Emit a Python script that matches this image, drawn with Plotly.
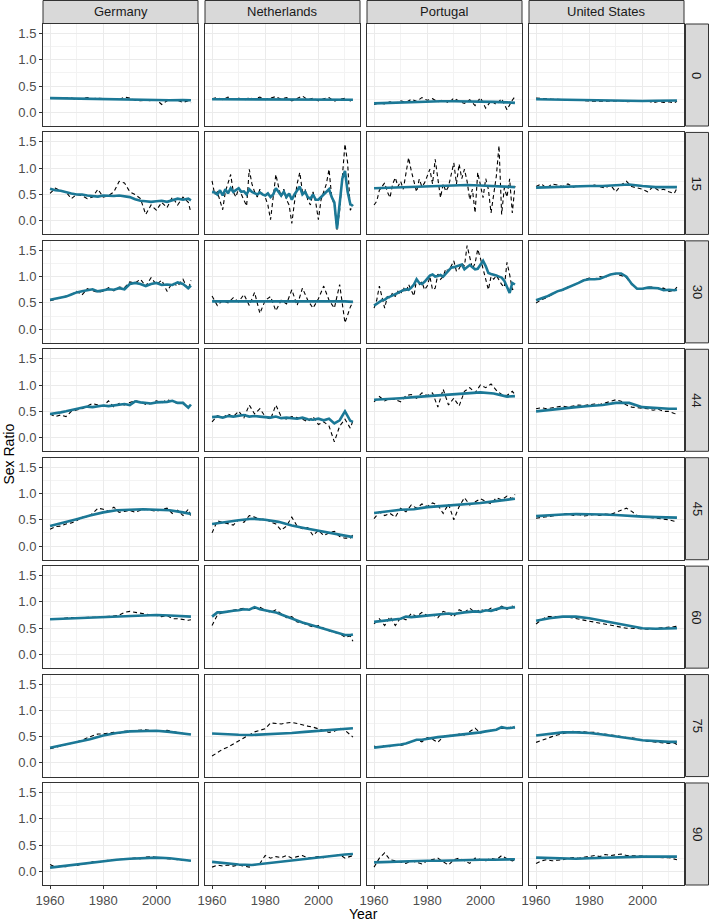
import plotly.graph_objects as go
from plotly.subplots import make_subplots

# years used by the series (yearly, every 2 years, every 5 years)
YEARS = list(range(1960, 2014))
YEARS_2 = list(range(1960, 2013, 2)) + [2013]
YEARS_5 = list(range(1960, 2011, 5)) + [2013]

COUNTRIES = ["Germany", "Netherlands", "Portugal", "United States"]
AGES = ["0", "15", "30", "44", "45", "60", "75", "90"]
X_TICKS = [1960, 1980, 2000]
Y_TICKS = [0.0, 0.5, 1.0, 1.5]

# --- age 0 ---
de_0_obs = [0.27, 0.27, 0.26, 0.26, 0.27, 0.25, 0.26, 0.28, 0.26, 0.27, 0.26, 0.25, 0.26, 0.24,
            0.29, 0.27, 0.23, 0.22, 0.23, 0.22, 0.24, 0.15, 0.22, 0.24, 0.23, 0.19, 0.22, 0.18]
de_0_fit = [0.27, 0.265, 0.26, 0.26, 0.255, 0.25, 0.245, 0.23, 0.225, 0.23, 0.235, 0.23]
nl_0_obs = [0.26, 0.28, 0.24, 0.29, 0.25, 0.27, 0.23, 0.28, 0.25, 0.29, 0.24, 0.27, 0.30, 0.25,
            0.28, 0.22, 0.26, 0.31, 0.24, 0.27, 0.22, 0.26, 0.28, 0.21, 0.25, 0.27, 0.22, 0.24]
nl_0_fit = [0.25, 0.25, 0.25, 0.25, 0.25, 0.25, 0.25, 0.245, 0.24, 0.24, 0.24, 0.24]
pt_0_obs = [0.15, 0.18, 0.16, 0.20, 0.17, 0.22, 0.19, 0.25, 0.21, 0.28, 0.23, 0.26, 0.20, 0.24,
            0.18, 0.27, 0.21, 0.17, 0.24, 0.13, 0.28, 0.08, 0.22, 0.15, 0.26, 0.05, 0.23, 0.30]
pt_0_fit = [0.17, 0.18, 0.19, 0.20, 0.205, 0.21, 0.21, 0.21, 0.20, 0.20, 0.19, 0.18]
us_0_obs = [0.27, 0.26, 0.26, 0.25, 0.25, 0.24, 0.24, 0.23, 0.23, 0.22, 0.22, 0.21, 0.21, 0.21,
            0.22, 0.21, 0.22, 0.20, 0.21, 0.21, 0.22, 0.22, 0.18, 0.21, 0.19, 0.20, 0.18, 0.21]
us_0_fit = [0.25, 0.245, 0.24, 0.235, 0.23, 0.22, 0.215, 0.21, 0.215, 0.22, 0.225, 0.225]

# --- age 15 ---
de_15_obs = [0.52, 0.62, 0.57, 0.55, 0.42, 0.50, 0.48, 0.42, 0.45, 0.60, 0.45, 0.48, 0.55, 0.75,
             0.72, 0.55, 0.50, 0.42, 0.12, 0.30, 0.20, 0.35, 0.25, 0.45, 0.30, 0.45, 0.35, 0.15]
de_15_fit = [0.61, 0.58, 0.57, 0.54, 0.52, 0.50, 0.50, 0.48, 0.47, 0.46, 0.48, 0.47, 0.47, 0.48,
             0.46, 0.45, 0.41, 0.38, 0.37, 0.36, 0.37, 0.38, 0.36, 0.39, 0.42, 0.40, 0.42, 0.39]
nl_15_obs = [0.76, 0.50, 0.55, 0.40, 0.21, 0.55, 0.70, 0.88, 0.55, 0.45,
             0.62, 0.50, 0.40, 0.28, 0.98, 0.70, 0.55, 0.45, 0.60, 0.50,
             0.45, 0.30, 0.02, 0.50, 0.88, 0.65, 0.45, 0.60, 0.40, 0.30,
             -0.05, 0.35, 0.70, 0.92, 0.55, 0.60, 0.40, 0.30, 0.55, 0.35,
             0.02, 0.40, 0.55, 0.70, 0.98, 0.45, 0.30, -0.17, 0.20, 0.80,
             1.46, 1.10, 0.20, 0.30]
nl_15_fit = [0.55, 0.54, 0.50, 0.58, 0.48, 0.60, 0.52, 0.62, 0.55, 0.58,
             0.62, 0.55, 0.56, 0.50, 0.60, 0.55, 0.52, 0.50, 0.54, 0.50,
             0.48, 0.52, 0.45, 0.50, 0.62, 0.55, 0.48, 0.55, 0.45, 0.52,
             0.40, 0.50, 0.58, 0.65, 0.50, 0.55, 0.45, 0.42, 0.50, 0.40,
             0.40, 0.45, 0.50, 0.55, 0.60, 0.45, 0.35, -0.15, 0.35, 0.80,
             0.95, 0.55, 0.32, 0.28]
pt_15_obs = [0.30, 0.37, 0.58, 0.65, 0.72, 0.55, 0.44, 0.70, 0.82, 0.65,
             0.75, 0.60, 0.90, 1.20, 0.95, 0.76, 0.55, 0.79, 0.65, 0.72,
             0.85, 0.98, 0.70, 1.17, 0.80, 0.44, 0.70, 0.56, 0.65, 0.85,
             1.10, 0.70, 1.08, 0.80, 0.98, 0.75, 0.40, 0.60, 0.15, 0.92,
             0.70, 0.44, 0.80, 0.60, 0.15, 0.55, 0.85, 1.43, 0.12, 0.63,
             0.45, 0.80, 0.15, 0.66]
pt_15_fit = [0.62, 0.63, 0.64, 0.65, 0.66, 0.67, 0.68, 0.68, 0.67, 0.66, 0.65, 0.64]
us_15_obs = [0.65, 0.70, 0.62, 0.70, 0.68, 0.65, 0.70, 0.64, 0.67, 0.65, 0.66, 0.68, 0.65, 0.62,
             0.68, 0.55, 0.68, 0.75, 0.65, 0.62, 0.60, 0.55, 0.65, 0.58, 0.60, 0.55, 0.52, 0.62]
us_15_fit = [0.63, 0.64, 0.65, 0.66, 0.66, 0.66, 0.67, 0.69, 0.66, 0.64, 0.64, 0.64]

# --- age 30 ---
de_30_obs = [0.54, 0.57, 0.60, 0.62, 0.66, 0.72, 0.65, 0.77, 0.73, 0.70, 0.72, 0.79, 0.73, 0.80,
             0.79, 0.90, 0.88, 0.95, 0.82, 0.98, 0.85, 0.93, 0.72, 0.88, 0.82, 0.95, 0.75, 0.93]
de_30_fit = [0.56, 0.58, 0.59, 0.62, 0.66, 0.70, 0.72, 0.74, 0.76, 0.72, 0.74, 0.76, 0.75, 0.78,
             0.76, 0.86, 0.88, 0.86, 0.82, 0.86, 0.88, 0.84, 0.85, 0.84, 0.89, 0.86, 0.78, 0.83]
nl_30_obs = [0.63, 0.45, 0.55, 0.50, 0.60, 0.52, 0.66, 0.45, 0.70, 0.30, 0.55, 0.62, 0.35, 0.55,
             0.48, 0.75, 0.45, 0.78, 0.55, 0.40, 0.58, 0.82, 0.55, 0.40, 0.85, 0.12, 0.42, 0.52]
nl_30_fit = [0.53, 0.53, 0.535, 0.54, 0.54, 0.54, 0.54, 0.54, 0.535, 0.53, 0.53, 0.52]
pt_30_obs = [0.40, 0.55, 0.82, 0.60, 0.40, 0.62, 0.58, 0.70, 0.62, 0.72,
             0.66, 0.80, 0.70, 0.85, 0.75, 0.63, 0.95, 0.85, 0.90, 0.75,
             0.82, 1.00, 0.75, 0.78, 1.05, 0.95, 1.00, 1.15, 1.10, 1.20,
             1.30, 1.10, 1.15, 1.25, 1.20, 1.59, 1.36, 1.15, 1.25, 1.52,
             1.35, 1.15, 0.90, 0.75, 1.00, 0.95, 1.02, 0.92, 0.85, 0.80,
             1.27, 1.04, 0.75, 0.80]
pt_30_fit = [0.45, 0.48, 0.52, 0.55, 0.56, 0.60, 0.62, 0.64, 0.66, 0.69,
             0.72, 0.74, 0.76, 0.75, 0.79, 0.85, 0.95, 0.88, 0.86, 0.90,
             0.95, 1.02, 1.04, 1.00, 1.01, 1.03, 1.00, 1.05, 1.12, 1.17,
             1.18, 1.20, 1.22, 1.23, 1.14, 1.18, 1.22, 1.18, 1.14, 1.15,
             1.22, 1.30, 1.20, 1.07, 1.05, 1.04, 1.02, 1.00, 0.98, 0.92,
             0.80, 0.69, 0.88, 0.85]
us_30_obs = [0.50, 0.56, 0.60, 0.66, 0.72, 0.74, 0.80, 0.83, 0.88, 0.94, 0.97, 0.95, 1.00, 0.98,
             1.05, 1.05, 1.02, 0.98, 0.85, 0.77, 0.76, 0.80, 0.80, 0.77, 0.78, 0.72, 0.74, 0.80]
us_30_fit = [0.55, 0.58, 0.62, 0.67, 0.72, 0.75, 0.79, 0.84, 0.88, 0.93, 0.95, 0.95, 0.96, 1.00,
             1.04, 1.06, 1.06, 1.00, 0.86, 0.77, 0.77, 0.79, 0.79, 0.78, 0.74, 0.75, 0.74, 0.75]

# --- age 44 ---
de_44_obs = [0.45, 0.40, 0.43, 0.40, 0.50, 0.52, 0.55, 0.60, 0.65, 0.62, 0.60, 0.70, 0.58, 0.65,
             0.62, 0.67, 0.70, 0.68, 0.63, 0.65, 0.70, 0.66, 0.72, 0.69, 0.65, 0.67, 0.58, 0.63]
de_44_fit = [0.45, 0.46, 0.48, 0.50, 0.52, 0.54, 0.57, 0.59, 0.58, 0.60, 0.61, 0.60, 0.61, 0.63,
             0.64, 0.62, 0.69, 0.67, 0.66, 0.65, 0.67, 0.67, 0.68, 0.70, 0.66, 0.66, 0.57, 0.63]
nl_44_obs = [0.30, 0.42, 0.38, 0.45, 0.40, 0.50, 0.38, 0.62, 0.45, 0.55, 0.40, 0.35, 0.62, 0.40,
             0.35, 0.40, 0.38, 0.35, 0.30, 0.40, 0.25, 0.30, 0.22, -0.08, 0.22, 0.35, 0.18, 0.32]
nl_44_fit = [0.39, 0.40, 0.38, 0.41, 0.40, 0.42, 0.43, 0.40, 0.41, 0.40, 0.39, 0.38, 0.40, 0.37,
             0.38, 0.37, 0.36, 0.38, 0.35, 0.34, 0.36, 0.33, 0.36, 0.27, 0.33, 0.50, 0.32, 0.30]
pt_44_obs = [0.68, 0.78, 0.70, 0.75, 0.72, 0.68, 0.80, 0.82, 0.75, 0.85, 0.80, 0.85, 0.58, 0.92,
             0.62, 0.75, 0.60, 0.88, 0.95, 0.85, 1.00, 0.95, 1.02, 0.90, 0.82, 0.80, 0.88, 0.82]
pt_44_fit = [0.72, 0.73, 0.75, 0.77, 0.79, 0.80, 0.82, 0.84, 0.86, 0.84, 0.78, 0.79]
us_44_obs = [0.55, 0.57, 0.55, 0.57, 0.58, 0.60, 0.58, 0.60, 0.62, 0.61, 0.62, 0.64, 0.63, 0.66,
             0.70, 0.72, 0.69, 0.62, 0.58, 0.57, 0.56, 0.55, 0.52, 0.54, 0.50, 0.50, 0.46, 0.45]
us_44_fit = [0.50, 0.53, 0.56, 0.58, 0.60, 0.62, 0.66, 0.66, 0.58, 0.56, 0.55, 0.55]

# --- age 45 ---
de_45_obs = [0.32, 0.37, 0.38, 0.42, 0.44, 0.48, 0.55, 0.55, 0.62, 0.72, 0.70, 0.66, 0.74, 0.64,
             0.66, 0.68, 0.64, 0.68, 0.70, 0.68, 0.66, 0.70, 0.72, 0.62, 0.68, 0.58, 0.70, 0.56]
de_45_fit = [0.38, 0.44, 0.51, 0.58, 0.64, 0.68, 0.69, 0.70, 0.69, 0.68, 0.64, 0.61]
nl_45_obs = [0.25, 0.48, 0.45, 0.42, 0.40, 0.50, 0.45, 0.58, 0.55, 0.50, 0.52, 0.46, 0.42, 0.30,
             0.38, 0.55, 0.38, 0.33, 0.35, 0.20, 0.30, 0.20, 0.25, 0.28, 0.18, 0.15, 0.15, 0.22]
nl_45_fit = [0.42, 0.46, 0.49, 0.52, 0.50, 0.46, 0.39, 0.34, 0.29, 0.24, 0.19, 0.17]
pt_45_obs = [0.52, 0.65, 0.58, 0.62, 0.55, 0.72, 0.65, 0.78, 0.72, 0.80, 0.75, 0.82, 0.78, 0.62,
             0.80, 0.50, 0.75, 0.92, 0.78, 0.84, 0.90, 0.85, 0.80, 0.92, 0.88, 0.95, 0.90, 0.98]
pt_45_fit = [0.63, 0.66, 0.69, 0.70, 0.74, 0.76, 0.78, 0.79, 0.82, 0.85, 0.88, 0.90]
us_45_obs = [0.53, 0.54, 0.56, 0.57, 0.59, 0.60, 0.62, 0.58, 0.60, 0.57, 0.58, 0.60, 0.58, 0.61,
             0.60, 0.64, 0.68, 0.72, 0.66, 0.58, 0.56, 0.55, 0.54, 0.53, 0.52, 0.50, 0.47, 0.45]
us_45_fit = [0.57, 0.59, 0.60, 0.61, 0.61, 0.60, 0.59, 0.57, 0.56, 0.55, 0.54, 0.54]

# --- age 60 ---
de_60_obs = [0.67, 0.68, 0.68, 0.69, 0.70, 0.70, 0.70, 0.71, 0.71, 0.71, 0.72, 0.72, 0.73, 0.75,
             0.80, 0.82, 0.80, 0.78, 0.76, 0.75, 0.74, 0.72, 0.74, 0.68, 0.68, 0.66, 0.65, 0.66]
de_60_fit = [0.67, 0.68, 0.69, 0.70, 0.71, 0.72, 0.74, 0.75, 0.75, 0.74, 0.73, 0.72]
nl_60_obs = [0.55, 0.75, 0.80, 0.82, 0.85, 0.86, 0.88, 0.85, 0.88, 0.90, 0.84, 0.80, 0.85, 0.78,
             0.70, 0.72, 0.62, 0.60, 0.56, 0.52, 0.55, 0.50, 0.45, 0.42, 0.40, 0.33, 0.35, 0.25]
nl_60_fit = [0.72, 0.80, 0.80, 0.82, 0.83, 0.84, 0.86, 0.85, 0.90, 0.86, 0.84, 0.82, 0.80, 0.76,
             0.72, 0.69, 0.65, 0.61, 0.58, 0.55, 0.52, 0.49, 0.46, 0.44, 0.40, 0.37, 0.37, 0.38]
pt_60_obs = [0.58, 0.68, 0.55, 0.72, 0.55, 0.70, 0.66, 0.78, 0.72, 0.80, 0.74, 0.76, 0.70, 0.82,
             0.78, 0.72, 0.85, 0.80, 0.88, 0.80, 0.86, 0.82, 0.88, 0.84, 0.92, 0.86, 0.92, 0.89]
pt_60_fit = [0.62, 0.63, 0.65, 0.65, 0.67, 0.68, 0.72, 0.71, 0.72, 0.73, 0.74, 0.75, 0.75, 0.76,
             0.78, 0.77, 0.79, 0.80, 0.81, 0.82, 0.81, 0.84, 0.83, 0.86, 0.89, 0.88, 0.90, 0.90]
us_60_obs = [0.58, 0.66, 0.72, 0.72, 0.73, 0.72, 0.71, 0.69, 0.68, 0.66, 0.64, 0.62, 0.60, 0.57,
             0.56, 0.54, 0.52, 0.50, 0.50, 0.49, 0.48, 0.48, 0.49, 0.50, 0.50, 0.52, 0.53, 0.54]
us_60_fit = [0.64, 0.69, 0.72, 0.72, 0.69, 0.64, 0.59, 0.54, 0.50, 0.49, 0.49, 0.50]

# --- age 75 ---
de_75_obs = [0.27, 0.30, 0.33, 0.35, 0.37, 0.40, 0.43, 0.48, 0.52, 0.55, 0.55, 0.57, 0.58, 0.56,
             0.60, 0.61, 0.62, 0.62, 0.63, 0.61, 0.60, 0.60, 0.62, 0.60, 0.57, 0.55, 0.54, 0.55]
de_75_fit = [0.29, 0.34, 0.39, 0.45, 0.52, 0.57, 0.60, 0.61, 0.61, 0.59, 0.56, 0.54]
nl_75_obs = [0.13, 0.20, 0.26, 0.30, 0.36, 0.42, 0.48, 0.54, 0.59, 0.62, 0.65, 0.76, 0.75, 0.74,
             0.76, 0.77, 0.75, 0.72, 0.70, 0.68, 0.65, 0.62, 0.58, 0.60, 0.66, 0.62, 0.52, 0.49]
nl_75_fit = [0.56, 0.545, 0.535, 0.53, 0.54, 0.555, 0.57, 0.59, 0.61, 0.63, 0.65, 0.66]
pt_75_obs = [0.32, 0.28, 0.33, 0.31, 0.35, 0.33, 0.36, 0.40, 0.44, 0.40, 0.48, 0.45, 0.39, 0.50,
             0.53, 0.51, 0.55, 0.53, 0.60, 0.66, 0.57, 0.60, 0.62, 0.63, 0.66, 0.65, 0.69, 0.66]
pt_75_fit = [0.29, 0.30, 0.32, 0.33, 0.34, 0.35, 0.37, 0.40, 0.44, 0.44, 0.46, 0.48, 0.49, 0.50,
             0.51, 0.52, 0.54, 0.55, 0.56, 0.57, 0.58, 0.60, 0.61, 0.63, 0.68, 0.66, 0.67, 0.68]
us_75_obs = [0.39, 0.43, 0.46, 0.50, 0.53, 0.56, 0.58, 0.60, 0.60, 0.59, 0.58, 0.58, 0.56, 0.55,
             0.54, 0.52, 0.50, 0.48, 0.48, 0.45, 0.43, 0.41, 0.40, 0.38, 0.38, 0.37, 0.38, 0.35]
us_75_fit = [0.52, 0.55, 0.58, 0.58, 0.57, 0.54, 0.51, 0.47, 0.43, 0.41, 0.40, 0.40]

# --- age 90 ---
de_90_obs = [0.13, 0.08, 0.10, 0.09, 0.12, 0.11, 0.14, 0.15, 0.18, 0.17, 0.20, 0.21, 0.22, 0.23,
             0.23, 0.24, 0.25, 0.24, 0.27, 0.28, 0.26, 0.25, 0.24, 0.23, 0.22, 0.22, 0.20, 0.20]
de_90_fit = [0.07, 0.10, 0.13, 0.16, 0.20, 0.22, 0.24, 0.25, 0.26, 0.25, 0.22, 0.20]
nl_90_obs = [0.08, 0.12, 0.10, 0.12, 0.10, 0.12, 0.10, 0.08, 0.12, 0.15, 0.30, 0.25, 0.28, 0.26,
             0.30, 0.25, 0.28, 0.30, 0.25, 0.27, 0.28, 0.26, 0.30, 0.29, 0.32, 0.25, 0.28, 0.30]
nl_90_fit = [0.18, 0.15, 0.13, 0.12, 0.15, 0.18, 0.21, 0.24, 0.27, 0.29, 0.32, 0.33]
pt_90_obs = [0.08, 0.25, 0.35, 0.22, 0.20, 0.18, 0.15, 0.20, 0.17, 0.14, 0.20, 0.22, 0.25, 0.18,
             0.12, 0.22, 0.25, 0.20, 0.15, 0.25, 0.22, 0.20, 0.25, 0.22, 0.30, 0.24, 0.20, 0.22]
pt_90_fit = [0.17, 0.18, 0.18, 0.19, 0.20, 0.20, 0.21, 0.21, 0.22, 0.22, 0.23, 0.23]
us_90_obs = [0.15, 0.20, 0.22, 0.20, 0.21, 0.22, 0.25, 0.26, 0.25, 0.27, 0.28, 0.30, 0.28, 0.32,
             0.30, 0.31, 0.33, 0.30, 0.30, 0.29, 0.29, 0.28, 0.27, 0.27, 0.26, 0.26, 0.24, 0.22]
us_90_fit = [0.26, 0.25, 0.24, 0.24, 0.25, 0.26, 0.27, 0.28, 0.28, 0.28, 0.28, 0.28]

SERIES = {
    "0": [(de_0_obs, de_0_fit), (nl_0_obs, nl_0_fit), (pt_0_obs, pt_0_fit), (us_0_obs, us_0_fit)],
    "15": [(de_15_obs, de_15_fit), (nl_15_obs, nl_15_fit), (pt_15_obs, pt_15_fit), (us_15_obs, us_15_fit)],
    "30": [(de_30_obs, de_30_fit), (nl_30_obs, nl_30_fit), (pt_30_obs, pt_30_fit), (us_30_obs, us_30_fit)],
    "44": [(de_44_obs, de_44_fit), (nl_44_obs, nl_44_fit), (pt_44_obs, pt_44_fit), (us_44_obs, us_44_fit)],
    "45": [(de_45_obs, de_45_fit), (nl_45_obs, nl_45_fit), (pt_45_obs, pt_45_fit), (us_45_obs, us_45_fit)],
    "60": [(de_60_obs, de_60_fit), (nl_60_obs, nl_60_fit), (pt_60_obs, pt_60_fit), (us_60_obs, us_60_fit)],
    "75": [(de_75_obs, de_75_fit), (nl_75_obs, nl_75_fit), (pt_75_obs, pt_75_fit), (us_75_obs, us_75_fit)],
    "90": [(de_90_obs, de_90_fit), (nl_90_obs, nl_90_fit), (pt_90_obs, pt_90_fit), (us_90_obs, us_90_fit)],
}


def years_for(values):
    """Eixo de anos correspondente ao tamanho da série."""
    for yrs in (YEARS, YEARS_2, YEARS_5):
        if len(yrs) == len(values):
            return yrs
    raise ValueError("unexpected series length %d" % len(values))


W, H = 709, 921
L, R, T, B = 43, 25, 24, 36
PW, PH = W - L - R, H - T - B
TEAL = "#1b7896"
FONT = "Liberation Sans, Arial, sans-serif"

fig = make_subplots(rows=len(AGES), cols=len(COUNTRIES),
                    horizontal_spacing=7 / PW, vertical_spacing=6.4 / PH)

for r, age in enumerate(AGES, start=1):
    for c, (obs, fit) in enumerate(SERIES[age], start=1):
        fig.add_trace(go.Scatter(x=years_for(obs), y=obs, mode="lines",
                                 line=dict(color="black", width=1.1, dash="4px,3px"),
                                 showlegend=False, hoverinfo="skip"), row=r, col=c)
        fig.add_trace(go.Scatter(x=years_for(fit), y=fit, mode="lines",
                                 line=dict(color=TEAL, width=2.6),
                                 showlegend=False, hoverinfo="skip"), row=r, col=c)

fig.update_xaxes(range=[1957.35, 2015.65], tickmode="array", tickvals=X_TICKS,
                 showgrid=True, gridcolor="#EBEBEB", gridwidth=1,
                 minor=dict(tickmode="array", tickvals=[1970, 1990, 2010], showgrid=True,
                            gridcolor="#F3F3F3", gridwidth=0.8),
                 showline=True, mirror=True, linecolor="#333333", linewidth=1,
                 zeroline=False, showticklabels=False, ticks="", automargin=False)
fig.update_yaxes(range=[-0.26, 1.68], tickmode="array", tickvals=Y_TICKS, tickformat=".1f",
                 showgrid=True, gridcolor="#EBEBEB", gridwidth=1,
                 minor=dict(tickmode="array", tickvals=[-0.25, 0.25, 0.75, 1.25], showgrid=True,
                            gridcolor="#F3F3F3", gridwidth=0.8),
                 showline=True, mirror=True, linecolor="#333333", linewidth=1,
                 zeroline=False, showticklabels=False, ticks="", automargin=False)
fig.update_xaxes(row=len(AGES), showticklabels=True, ticks="outside", ticklen=3,
                 tickcolor="#333333", tickfont=dict(size=13, color="#4D4D4D"))
fig.update_yaxes(col=1, showticklabels=True, ticks="outside", ticklen=3,
                 tickcolor="#333333", tickfont=dict(size=13, color="#4D4D4D"))

# facet strips
shapes, notes = [], []
for c, country in enumerate(COUNTRIES, start=1):
    dom = fig.get_subplot(1, c).xaxis.domain
    shapes.append(dict(type="rect", xref="paper", yref="paper", x0=dom[0], x1=dom[1],
                       y0=1 + 0.5 / PH, y1=1 + 23.5 / PH, fillcolor="#D9D9D9",
                       line=dict(color="#333333", width=1), layer="below"))
    notes.append(dict(text=country, xref="paper", yref="paper", x=(dom[0] + dom[1]) / 2,
                      y=1 + 12 / PH, xanchor="center", yanchor="middle", showarrow=False,
                      font=dict(size=13, color="#1A1A1A")))
for r, age in enumerate(AGES, start=1):
    dom = fig.get_subplot(r, 1).yaxis.domain
    shapes.append(dict(type="rect", xref="paper", yref="paper", x0=1 + 1.5 / PW, x1=1 + 24.5 / PW,
                       y0=dom[0], y1=dom[1], fillcolor="#D9D9D9",
                       line=dict(color="#333333", width=1), layer="below"))
    notes.append(dict(text=age, xref="paper", yref="paper", x=1 + 13 / PW,
                      y=(dom[0] + dom[1]) / 2, xanchor="center", yanchor="middle",
                      showarrow=False, textangle=90, font=dict(size=13, color="#1A1A1A")))

notes.append(dict(text="Year", xref="paper", yref="paper", x=0.5, y=-29 / PH,
                  xanchor="center", yanchor="middle", showarrow=False,
                  font=dict(size=14, color="black")))
notes.append(dict(text="Sex Ratio", xref="paper", yref="paper", x=-35 / PW, y=0.5,
                  xanchor="center", yanchor="middle", showarrow=False, textangle=-90,
                  font=dict(size=14, color="black")))

fig.update_layout(width=W, height=H, margin=dict(l=L, r=R, t=T, b=B),
                  plot_bgcolor="white", paper_bgcolor="white",
                  font=dict(family=FONT), shapes=shapes, annotations=notes)

# drop the default 8px page margin so the figure sits at the window's corner
fig.write_html("out.html", config={"displayModeBar": False},
               post_script="document.body.style.margin = '0';")
